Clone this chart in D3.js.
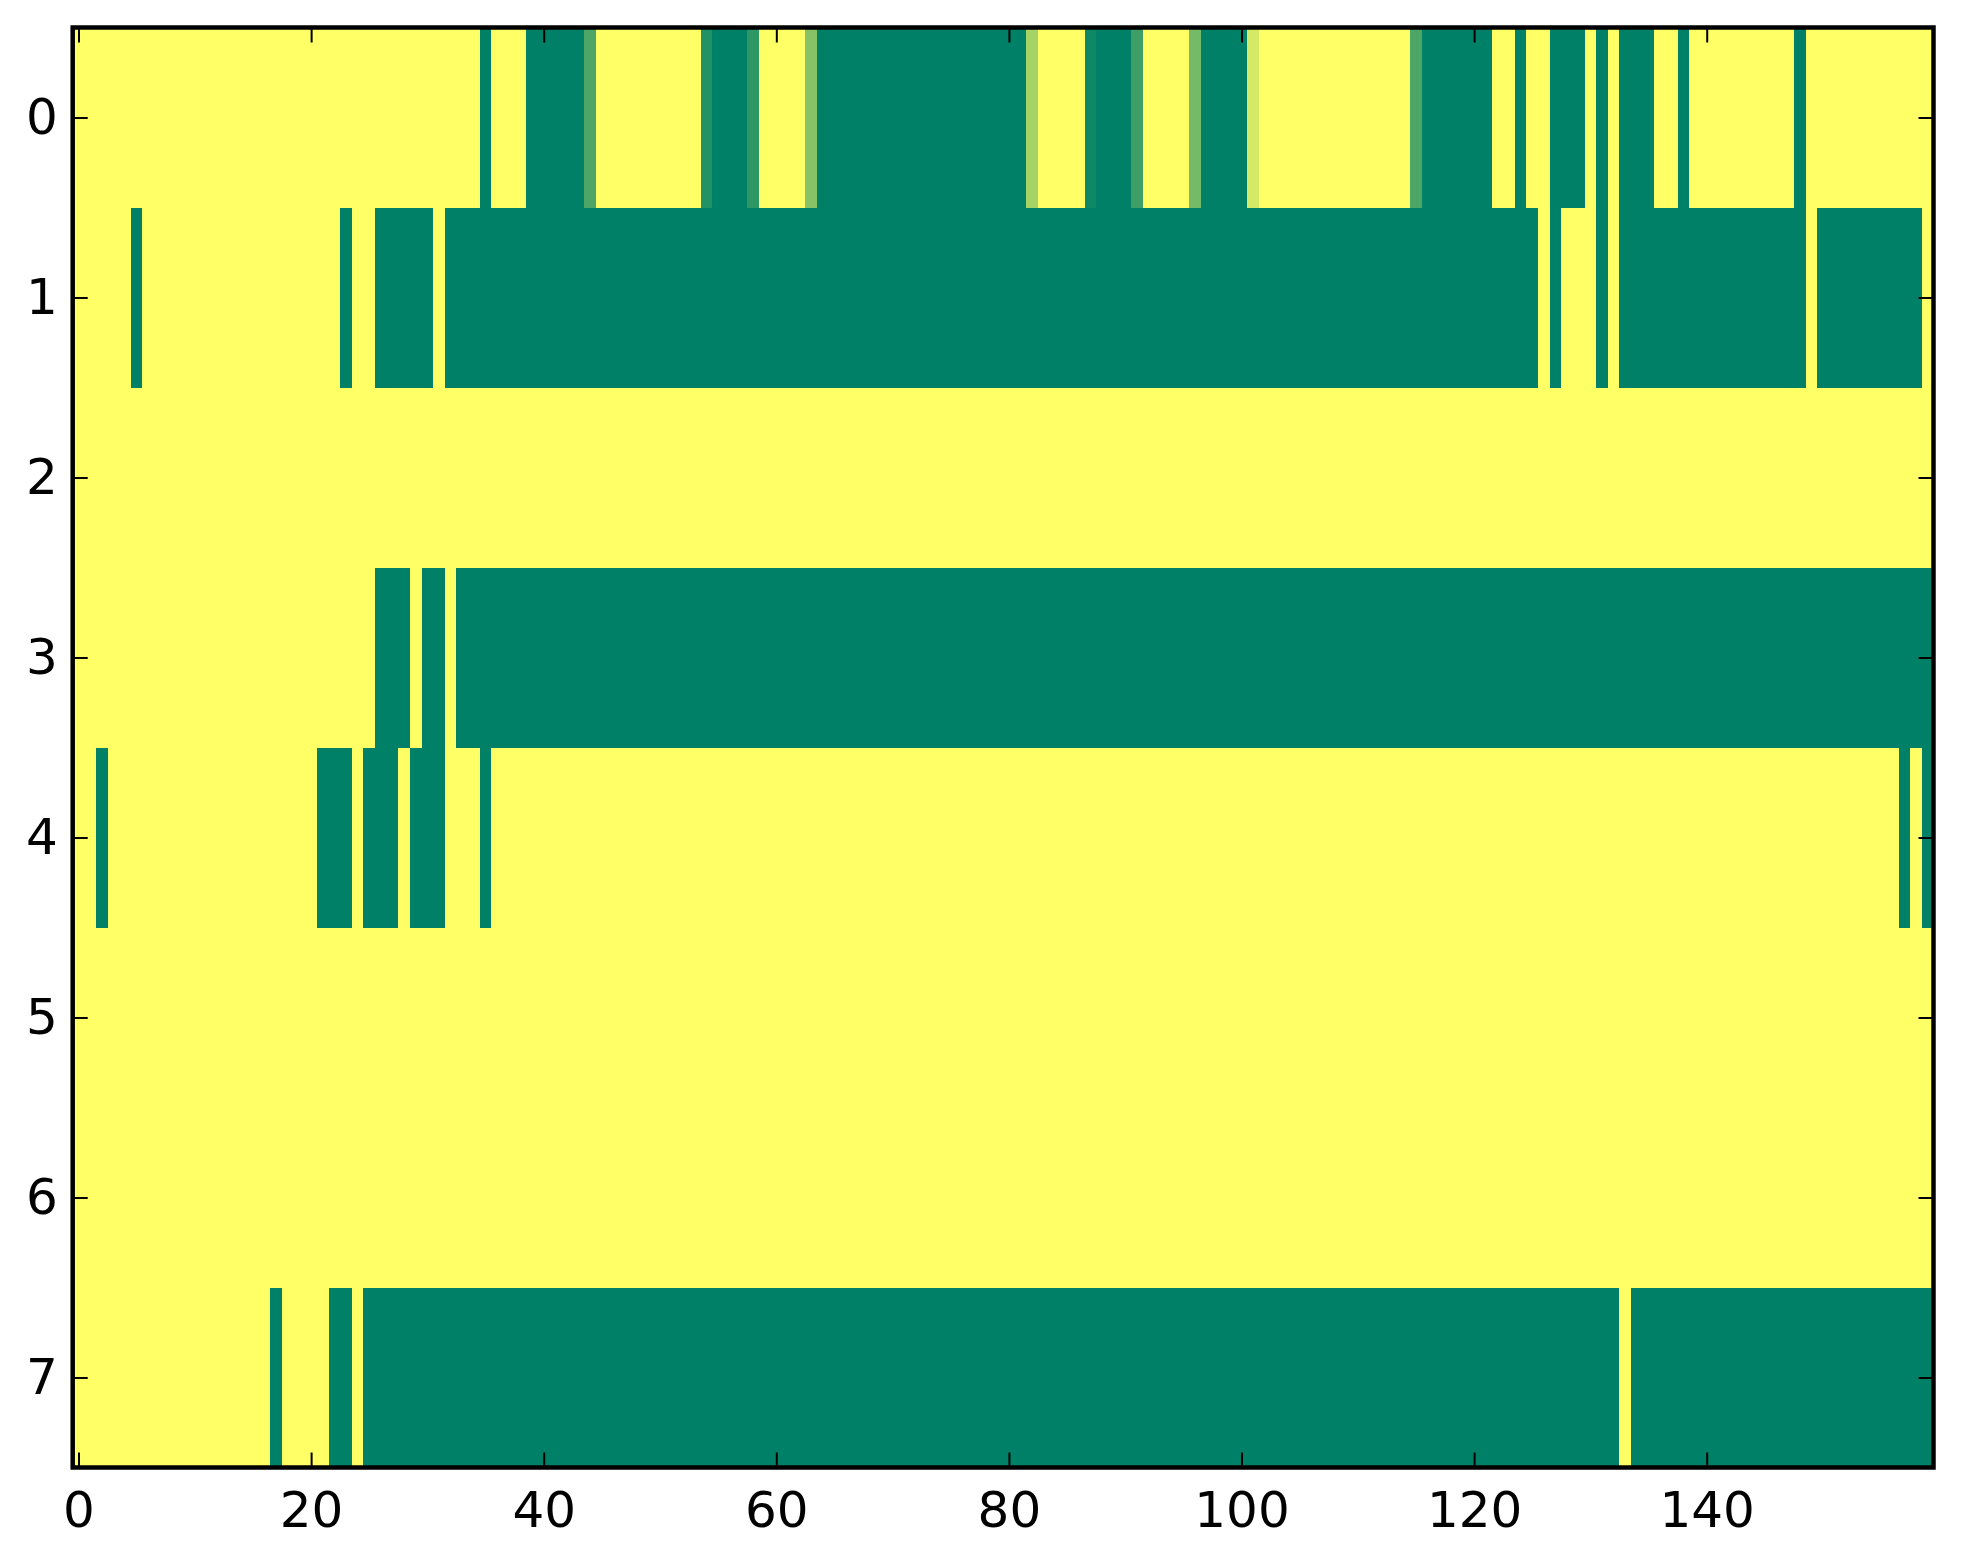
<!DOCTYPE html>
<html>
<head>
<meta charset="utf-8">
<title>imshow summer</title>
<script src="https://cdnjs.cloudflare.com/ajax/libs/d3/7.8.5/d3.min.js"></script>
<style>
  body { margin: 0; background: #fff; }
  svg { display: block; }
  .tick text { font-family: "DejaVu Sans", sans-serif; }
</style>
</head>
<body>
<div id="chart"></div>
<script>
// grid size (rows x columns) and tick labels
var nRows = 8, nCols = 160;
var xTicks = [0, 20, 40, 60, 80, 100, 120, 140];
var yTicks = [0, 1, 2, 3, 4, 5, 6, 7];

// every cell is 1 (yellow) unless listed in a run: [firstCol, lastCol, value]
var row0 = [[35,35,0],[39,43,0],[44,44,0.3],[54,54,0.13],[55,57,0],[58,58,0.18],
            [63,63,0.53],[64,81,0],[82,82,0.65],[87,87,0.06],[88,90,0],[91,91,0.24],
            [96,96,0.46],[97,100,0],[101,101,0.83],[115,115,0.3],[116,121,0],
            [124,124,0],[127,129,0],[131,131,0],[133,135,0],[138,138,0],[148,148,0]];
var row1 = [[5,5,0],[23,23,0],[26,30,0],[32,125,0],[127,127,0],[131,131,0],
            [133,148,0],[150,158,0]];
var row2 = [];
var row3 = [[26,28,0],[30,31,0],[33,159,0]];
var row4 = [[2,2,0],[21,23,0],[25,27,0],[29,31,0],[35,35,0],[157,157,0],[159,159,0]];
var row5 = [];
var row6 = [];
var row7 = [[17,17,0],[22,23,0],[25,132,0],[134,159,0]];

var rows = [row0, row1, row2, row3, row4, row5, row6, row7];

// build the cell table
var cells = [];
rows.forEach(function(runs, r) {
    var vals = d3.range(nCols).map(function() { return 1; });
    runs.forEach(function(run) {
        for (var c = run[0]; c <= run[1]; c++) vals[c] = run[2];
    });
    vals.forEach(function(v, c) { cells.push({row: r, col: c, value: v}); });
});

var W = 1963, H = 1564;
var plotL = 72.7, plotR = 1933.5, plotT = 27.5, plotB = 1467.5;

var x = d3.scaleLinear().domain([-0.5, nCols - 0.5]).range([plotL, plotR]);
var y = d3.scaleLinear().domain([-0.5, nRows - 0.5]).range([plotT, plotB]);
// matplotlib "summer": linear from (0, .5, .4) to (1, 1, .4)
var color = d3.scaleLinear().domain([0, 1]).range(["#008066", "#ffff66"]);

var svg = d3.select("#chart").append("svg")
    .attr("width", W).attr("height", H);

svg.append("g").selectAll("rect")
    .data(cells)
    .enter().append("rect")
    .attr("x", function(d) { return x(d.col - 0.5); })
    .attr("y", function(d) { return y(d.row - 0.5); })
    .attr("width", function(d) { return x(d.col + 0.5) - x(d.col - 0.5); })
    .attr("height", function(d) { return y(d.row + 0.5) - y(d.row - 0.5); })
    .attr("fill", function(d) { return color(d.value); })
    .attr("shape-rendering", "crispEdges");

// ticks point inward on all four sides
var tickLen = 15;
function styleAxis(g, showText) {
    g.select(".domain").remove();
    g.selectAll(".tick line").attr("stroke", "#000").attr("stroke-width", 2);
    if (!showText) g.selectAll(".tick text").remove();
    else g.selectAll(".tick text").attr("fill", "#000").style("font-size", "50px");
}

svg.append("g")
    .attr("transform", "translate(0," + plotB + ")")
    .call(d3.axisBottom(x).tickValues(xTicks).tickSizeInner(-tickLen).tickSizeOuter(0).tickPadding(24))
    .call(styleAxis, true);
svg.append("g")
    .attr("transform", "translate(0," + plotT + ")")
    .call(d3.axisTop(x).tickValues(xTicks).tickSizeInner(-tickLen).tickSizeOuter(0))
    .call(styleAxis, false);
svg.append("g")
    .attr("transform", "translate(" + plotL + ",0)")
    .call(d3.axisLeft(y).tickValues(yTicks).tickSizeInner(-tickLen).tickSizeOuter(0).tickPadding(15))
    .call(styleAxis, true);
svg.append("g")
    .attr("transform", "translate(" + plotR + ",0)")
    .call(d3.axisRight(y).tickValues(yTicks).tickSizeInner(-tickLen).tickSizeOuter(0))
    .call(styleAxis, false);

// frame
svg.append("rect")
    .attr("x", plotL).attr("y", plotT)
    .attr("width", plotR - plotL).attr("height", plotB - plotT)
    .attr("fill", "none").attr("stroke", "#000").attr("stroke-width", 4.5);
</script>
</body>
</html>
